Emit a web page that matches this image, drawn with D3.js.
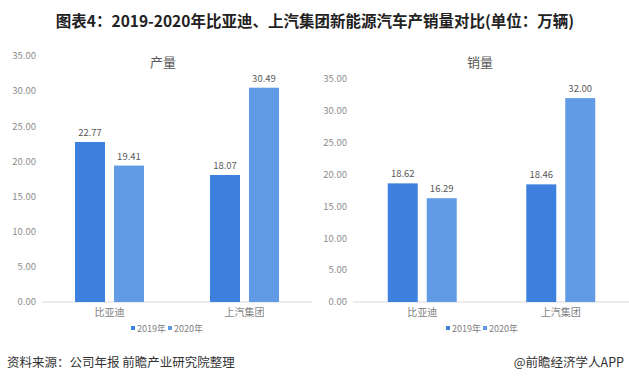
<!DOCTYPE html>
<html>
<head>
<meta charset="utf-8">
<script src="https://cdn.jsdelivr.net/npm/d3@7"></script>
<style>
  body { margin: 0; background: #fff; }
  svg { font-family: "Noto Sans CJK SC", "Microsoft YaHei", sans-serif; }
</style>
</head>
<body>
<div id="chart"></div>
<script>
// data
const companies = ['比亚迪', '上汽集团'];
const years = ['2019年', '2020年'];
const output2019 = [22.77, 18.07];
const output2020 = [19.41, 30.49];
const sales2019 = [18.62, 18.46];
const sales2020 = [16.29, 32.00];
const yTicks = [0, 5, 10, 15, 20, 25, 30, 35];

const colors = { '2019年': '#3e80de', '2020年': '#619be6' };

const svg = d3.select('#chart').append('svg').attr('width', 629).attr('height', 378);

// main title
svg.append('text')
  .attr('x', 315).attr('y', 27)
  .style('text-anchor', 'middle')
  .style('font-size', '15.5px')
  .style('font-weight', 'bold')
  .style('fill', '#222')
  .text('图表4：2019-2020年比亚迪、上汽集团新能源汽车产销量对比(单位：万辆)');

// one small bar chart per panel
function panel(cfg) {
  const g = svg.append('g');
  const y = d3.scaleLinear().domain([0, 35]).range([302, cfg.top]);
  const x0 = d3.scaleBand().domain(companies).range([cfg.left, cfg.right]);
  const x1 = d3.scaleBand().domain(years).range([0, 69]).paddingInner(0.23);
  const off = (x0.bandwidth() - 69) / 2;

  // y axis labels
  g.selectAll('.ytick')
    .data(yTicks)
    .join('text')
    .attr('x', cfg.labelX)
    .attr('y', d => y(d))
    .attr('dy', '0.35em')
    .style('text-anchor', 'end')
    .style('font-size', '9.5px')
    .style('fill', '#8c8c8c')
    .text(d => d.toFixed(2));

  // baseline
  g.append('line')
    .attr('x1', cfg.left).attr('x2', cfg.right)
    .attr('y1', y(0)).attr('y2', y(0))
    .style('stroke', '#d9d9d9');

  const rows = [];
  companies.forEach((c, i) => {
    rows.push({ company: c, year: '2019年', value: cfg.v2019[i] });
    rows.push({ company: c, year: '2020年', value: cfg.v2020[i] });
  });

  g.selectAll('.bar')
    .data(rows)
    .join('rect')
    .attr('x', d => x0(d.company) + off + x1(d.year))
    .attr('y', d => y(d.value))
    .attr('width', x1.bandwidth())
    .attr('height', d => y(0) - y(d.value))
    .style('fill', d => colors[d.year]);

  g.selectAll('.val')
    .data(rows)
    .join('text')
    .attr('x', d => x0(d.company) + off + x1(d.year) + x1.bandwidth() / 2)
    .attr('y', d => y(d.value) - 6)
    .style('text-anchor', 'middle')
    .style('font-size', '9.5px')
    .style('fill', '#595959')
    .text(d => d.value.toFixed(2));

  // category labels
  g.selectAll('.cat')
    .data(companies)
    .join('text')
    .attr('x', d => x0(d) + x0.bandwidth() / 2)
    .attr('y', 316)
    .style('text-anchor', 'middle')
    .style('font-size', '10px')
    .style('fill', '#7f7f7f')
    .text(d => d);

  // panel title
  g.append('text')
    .attr('x', cfg.titleX).attr('y', 67)
    .style('text-anchor', 'middle')
    .style('font-size', '13px')
    .style('fill', '#595959')
    .text(cfg.title);

  // legend
  years.forEach((yr, i) => {
    const lx = cfg.legendX + i * 37;
    g.append('rect')
      .attr('x', lx).attr('y', 326)
      .attr('width', 4).attr('height', 4)
      .style('fill', colors[yr]);
    g.append('text')
      .attr('x', lx + 6).attr('y', 332)
      .style('font-size', '9px')
      .style('fill', '#7f7f7f')
      .text(yr);
  });
}

panel({ left: 42, right: 312, top: 56, labelX: 36, titleX: 163, legendX: 131,
  v2019: output2019, v2020: output2020, title: '产量' });
panel({ left: 353, right: 630, top: 79, labelX: 347, titleX: 480, legendX: 446,
  v2019: sales2019, v2020: sales2020, title: '销量' });

// footer
svg.append('text')
  .attr('x', 7).attr('y', 367)
  .style('font-size', '12.5px')
  .style('fill', '#333')
  .text('资料来源：公司年报 前瞻产业研究院整理');

svg.append('text')
  .attr('x', 624).attr('y', 367)
  .style('text-anchor', 'end')
  .style('font-size', '12.5px')
  .style('fill', '#333')
  .text('@前瞻经济学人APP');
</script>
</body>
</html>
